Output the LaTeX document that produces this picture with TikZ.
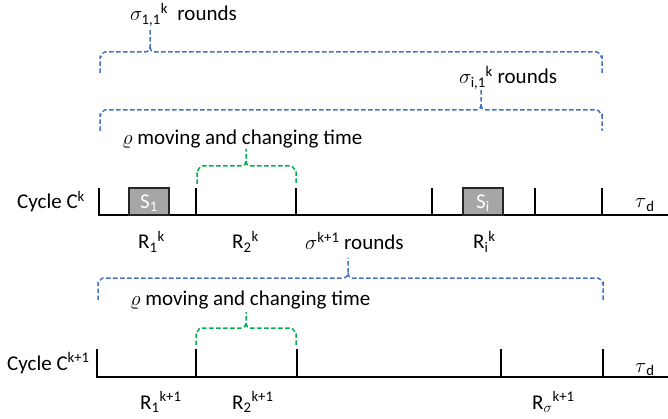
\documentclass[tikz,border=0pt]{standalone}
\usepackage{amsmath}
\usepackage{fontspec}
\setmainfont{Carlito}
\definecolor{braceblue}{HTML}{4472C4}
\definecolor{bracegreen}{HTML}{00B050}
\definecolor{boxgray}{HTML}{A6A6A6}
\definecolor{boxedge}{HTML}{262626}
\tikzset{
  lbl/.style={inner sep=0pt, anchor=base west, font=\fontsize{21}{25}\selectfont},
  bluebrace/.style={draw=braceblue, line width=1.5pt, dash pattern=on 4.5pt off 2.5pt},
  greenbrace/.style={draw=bracegreen, line width=1.5pt, dash pattern=on 4.5pt off 2.5pt},
  axis/.style={draw=black, line width=2pt},
  tick/.style={draw=black, line width=1.8pt},
  slot/.style={draw=boxedge, fill=boxgray, line width=2pt},
  slotlbl/.style={inner sep=0pt, text=white, font=\fontsize{21}{25}\selectfont}
}
% brace: style, left x, right x, tip x, horizontal y, end bottom y, tip top y
\newcommand{\mybrace}[7]{%
  \draw[#1] (#2,#6) -- (#2,#5+5) to[out=-90,in=180] (#2+5,#5) -- (#4-4,#5)
    to[out=0,in=-90] (#4,#5-5) -- (#4,#7);
  \draw[#1] (#4,#5-5) to[out=-90,in=180] (#4+4,#5) -- (#3-5,#5)
    to[out=0,in=-90] (#3,#5+5) -- (#3,#6);
}
\begin{document}
\begin{tikzpicture}[x=1pt,y=-1pt]
\useasboundingbox (0,0) rectangle (668,419);

% ---------- top braces ----------
\node[lbl] (s11) at (130,21) {$\sigma_{\text{1,1}}$\textsuperscript{k}\ \ rounds};
\mybrace{bluebrace}{100}{602}{150}{52}{73}{29}

\node[lbl] (si1) at (459,84) {$\sigma_{\text{i,1}}$\textsuperscript{k}\ rounds};
\mybrace{bluebrace}{100}{602}{481}{110}{131}{88}

\node[lbl] (rho1) at (122,145) {$\varrho$ moving and changing time};
\mybrace{greenbrace}{197}{296}{246}{166}{184}{149}

% ---------- cycle k ----------
\node[lbl] (ck) at (17,209) {Cycle C\textsuperscript{k}};
\coordinate (a0) at (99,215);
\coordinate (aend) at (668,215);
\draw[axis] (a0) -- (aend);
\draw[slot] (129,188) rectangle (169,215);
\node[slotlbl] (s1) at (149,203) {S\textsubscript{1}};
\draw[slot] (463,188) rectangle (503,215);
\node[slotlbl] (si) at (483,203) {S\textsubscript{i}};
\foreach \x in {99,196,296,432,535,602} \draw[tick] (\x,188) -- (\x,216);
\node[lbl] (tau1) at (635,208) {$\tau$\textsubscript{d}};

\node[lbl] (r1k) at (138,249) {R\textsubscript{1}\textsuperscript{k}};
\node[lbl] (r2k) at (232,249) {R\textsubscript{2}\textsuperscript{k}};
\node[lbl] (sk1) at (305,250) {$\sigma$\textsuperscript{k+1} rounds};
\node[lbl] (rik) at (473,249) {R\textsubscript{i}\textsuperscript{k}};

\mybrace{bluebrace}{98}{603}{348}{278}{300}{258}

\node[lbl] (rho2) at (130,305) {$\varrho$ moving and changing time};
\mybrace{greenbrace}{196}{296}{246}{328}{345}{312}

% ---------- cycle k+1 ----------
\node[lbl] (ck1) at (7,370) {Cycle C\textsuperscript{k+1}};
\coordinate (b0) at (97,377);
\coordinate (bend) at (668,377);
\draw[axis] (b0) -- (bend);
\foreach \x in {97,196,297,501,603} \draw[tick] (\x,349) -- (\x,378);
\node[lbl] (tau2) at (635,372) {$\tau$\textsubscript{d}};

\node[lbl] (r1k1) at (140,409) {R\textsubscript{1}\textsuperscript{k+1}};
\node[lbl] (r2k1) at (232,409) {R\textsubscript{2}\textsuperscript{k+1}};
\node[lbl] (rsk1) at (532,409) {R\textsubscript{$\sigma$}\textsuperscript{k+1}};
\end{tikzpicture}
\end{document}
